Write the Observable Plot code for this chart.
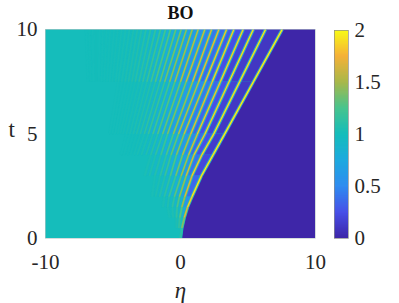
<!DOCTYPE html>
<html><head><meta charset="utf-8">
<script src="https://cdn.jsdelivr.net/npm/d3@7"></script>
<script src="https://cdn.jsdelivr.net/npm/@observablehq/plot@0.6"></script>
<style>
html,body{margin:0;padding:0;background:#fff}
#w{position:relative;width:399px;height:303px}
#w svg{position:absolute;left:0;top:0;background:transparent}
</style></head><body><div id="w"></div>
<script>
const n = null;
const titleText = "BO", xLabel = "η", yLabel = "t";
const etaDomain = [-10, 10], tDomain = [0, 10], colorDomain = [0, 2];
const xTicks = [-10, 0, 10], yTicks = [0, 5, 10], barTicks = [0, 0.5, 1, 1.5, 2];
const baseValue = 1, aheadValue = 0;
const colorStops = [0, 0.25, 0.5, 0.75, 1, 1.25, 1.5, 1.75, 2];
const colorRange = ["#3e26a8", "#4750e8", "#2f8cf0", "#1daadf", "#15bdbb", "#48c48e", "#a8b84a", "#f5b138", "#f9fb15"];
const tLevels = [0, 0.5, 1, 1.5, 2, 3, 4, 5, 7.5, 10];
// crest positions (eta) read at each tLevel
const crestEta = [
 [0,.1,.28,.52,.85,1.55,2.41,3.27,5.4,7.53],
 [n,-.12,-.05,.1,.32,.85,1.58,2.46,4.38,6.3],
 [n,-.3,-.3,-.25,-.08,.42,1,1.81,3.6,5.39],
 [n,n,-.55,-.6,-.45,.05,.6,1.25,2.95,4.64],
 [n,n,-.8,-.95,-.85,-.35,.15,.76,2.35,3.95],
 [n,n,n,-1.3,-1.2,-.75,-.3,.27,1.84,3.41],
 [n,n,n,n,-1.55,-1.15,-.7,-.15,1.35,2.84],
 [n,n,n,n,-1.85,-1.5,-1.05,-.53,.9,2.3],
 [n,n,n,n,-2.1,-1.9,-1.45,-.96,.42,1.8],
 [n,n,n,n,n,-2.3,-1.85,-1.32,0,1.31],
 [n,n,n,n,n,-2.65,-2.2,-1.69,-.41,.87],
 [n,n,n,n,n,n,-2.55,-2.04,-.8,.44],
 [n,n,n,n,n,n,-2.9,-2.38,-1.17,.05],
 [n,n,n,n,n,n,-3.2,-2.68,-1.52,-.35],
 [n,n,n,n,n,n,-3.45,-2.98,-1.86,-.74],
 [n,n,n,n,n,n,-3.7,-3.25,-2.18,-1.11],
 [n,n,n,n,n,n,-3.95,-3.5,-2.49,-1.48],
 [n,n,n,n,n,n,-4.2,-3.75,-2.79,-1.85],
 [n,n,n,n,n,n,-4.4,-4,-3.07,-2.22],
 [n,n,n,n,n,n,n,-4.25,-3.35,-2.56],
 [n,n,n,n,n,n,n,-4.45,-3.6,-2.89],
 [n,n,n,n,n,n,n,-4.65,-3.85,-3.19],
 [n,n,n,n,n,n,n,-4.85,-4.1,-3.48],
 [n,n,n,n,n,n,n,-5.05,-4.35,-3.78],
 [n,n,n,n,n,n,n,-5.25,-4.6,-4.07],
 [n,n,n,n,n,n,n,n,-4.8,-4.36],
 [n,n,n,n,n,n,n,n,-5.05,-4.65],
 [n,n,n,n,n,n,n,n,-5.25,-4.92],
 [n,n,n,n,n,n,n,n,-5.45,-5.2],
 [n,n,n,n,n,n,n,n,-5.65,-5.48],
 [n,n,n,n,n,n,n,n,-5.85,-5.75],
 [n,n,n,n,n,n,n,n,-6.05,-6],
 [n,n,n,n,n,n,n,n,-6.25,-6.25],
 [n,n,n,n,n,n,n,n,-6.45,-6.5],
 [n,n,n,n,n,n,n,n,-6.65,-6.75],
 [n,n,n,n,n,n,n,n,-6.85,-7]
];
// crest heights at each tLevel
const crestVal = [
 [1,1.25,1.6,1.8,1.95,2,2,2,2,2],
 [n,1.1,1.2,1.4,1.6,1.8,1.9,1.95,1.95,1.95],
 [n,1.02,1.08,1.2,1.35,1.6,1.75,1.85,1.9,1.95],
 [n,n,1.03,1.08,1.2,1.45,1.6,1.75,1.85,1.9],
 [n,n,1.02,1.04,1.1,1.3,1.5,1.65,1.8,1.9],
 [n,n,n,1.02,1.05,1.2,1.35,1.55,1.75,1.85],
 [n,n,n,n,1.03,1.13,1.25,1.45,1.7,1.8],
 [n,n,n,n,1.02,1.08,1.18,1.35,1.62,1.78],
 [n,n,n,n,1.01,1.05,1.12,1.28,1.55,1.72],
 [n,n,n,n,n,1.03,1.08,1.2,1.5,1.68],
 [n,n,n,n,n,1.02,1.05,1.15,1.42,1.62],
 [n,n,n,n,n,n,1.03,1.1,1.35,1.56],
 [n,n,n,n,n,n,1.02,1.07,1.28,1.5],
 [n,n,n,n,n,n,1.01,1.05,1.22,1.44],
 [n,n,n,n,n,n,1.005,1.03,1.17,1.38],
 [n,n,n,n,n,n,1,1.02,1.13,1.32],
 [n,n,n,n,n,n,1,1.01,1.1,1.27],
 [n,n,n,n,n,n,1,1.01,1.07,1.22],
 [n,n,n,n,n,n,1,1.005,1.05,1.18],
 [n,n,n,n,n,n,n,1,1.04,1.15],
 [n,n,n,n,n,n,n,1,1.03,1.12],
 [n,n,n,n,n,n,n,1,1.02,1.1],
 [n,n,n,n,n,n,n,1,1.015,1.08],
 [n,n,n,n,n,n,n,1,1.01,1.06],
 [n,n,n,n,n,n,n,1,1.01,1.05],
 [n,n,n,n,n,n,n,n,1.005,1.04],
 [n,n,n,n,n,n,n,n,1.005,1.03],
 [n,n,n,n,n,n,n,n,1,1.025],
 [n,n,n,n,n,n,n,n,1,1.02],
 [n,n,n,n,n,n,n,n,1,1.02],
 [n,n,n,n,n,n,n,n,1,1.015],
 [n,n,n,n,n,n,n,n,1,1.015],
 [n,n,n,n,n,n,n,n,1,1.01],
 [n,n,n,n,n,n,n,n,1,1.01],
 [n,n,n,n,n,n,n,n,1,1.01],
 [n,n,n,n,n,n,n,n,1,1.005]
];
// trough depth between each crest and the next, at each tLevel
const troughVal = [
 [n,1,.8,.6,.45,.25,.15,.12,.1,.1],
 [n,1,.95,.85,.7,.5,.3,.2,.15,.12],
 [n,n,.98,.92,.8,.6,.4,.3,.2,.15],
 [n,n,1,.97,.9,.7,.55,.4,.28,.2],
 [n,n,n,.98,.92,.78,.65,.5,.35,.25],
 [n,n,n,n,.96,.85,.72,.55,.42,.3],
 [n,n,n,n,.98,.9,.8,.62,.47,.35],
 [n,n,n,n,.99,.95,.86,.7,.52,.4],
 [n,n,n,n,n,.95,.9,.76,.58,.45],
 [n,n,n,n,n,.97,.93,.8,.64,.5],
 [n,n,n,n,n,n,.95,.85,.68,.55],
 [n,n,n,n,n,n,.97,.88,.73,.6],
 [n,n,n,n,n,n,.99,.91,.77,.65],
 [n,n,n,n,n,n,1,.94,.8,.7],
 [n,n,n,n,n,n,1,.96,.84,.74],
 [n,n,n,n,n,n,1,.97,.87,.78],
 [n,n,n,n,n,n,1,.98,.9,.82],
 [n,n,n,n,n,n,1,.985,.92,.85],
 [n,n,n,n,n,n,n,.99,.94,.88],
 [n,n,n,n,n,n,n,1,.96,.9],
 [n,n,n,n,n,n,n,1,.97,.92],
 [n,n,n,n,n,n,n,1,.98,.93],
 [n,n,n,n,n,n,n,1,.985,.95],
 [n,n,n,n,n,n,n,1,.99,.96],
 [n,n,n,n,n,n,n,n,.99,.97],
 [n,n,n,n,n,n,n,n,1,.975],
 [n,n,n,n,n,n,n,n,1,.98],
 [n,n,n,n,n,n,n,n,1,.98],
 [n,n,n,n,n,n,n,n,1,.985],
 [n,n,n,n,n,n,n,n,1,.985],
 [n,n,n,n,n,n,n,n,1,.99],
 [n,n,n,n,n,n,n,n,1,.99],
 [n,n,n,n,n,n,n,n,1,.995],
 [n,n,n,n,n,n,n,n,1,.995],
 [n,n,n,n,n,n,n,n,1,.995]
];
const barLevels = d3.range(0, 2, 0.01);
const serif = "'Liberation Serif','Times New Roman',serif", ink = "#262626";

// a segment is painted in one colour, so it takes the mean of its two ends
const mid = (row, j) => row[j + 1] != null ? (row[j] + row[j + 1]) / 2 : row[j];
const crestRows = crestEta.flatMap((row, i) => row.map((eta, j) => {
  const v = crestVal[i][j] == null ? n : mid(crestVal[i], j);
  const tr = troughVal[i] && troughVal[i][j] != null ? mid(troughVal[i], j) : baseValue;
  return {id: i, t: tLevels[j], eta, v, base: tr};
}).filter(d => d.eta != null));
const bandRows = troughVal.flatMap((row, i) => row.map((v, j) => ({
  id: i, t: tLevels[j], a: crestEta[i + 1][j], b: crestEta[i][j], v: v == null ? n : mid(row, j)
})).filter(d => d.v != null && d.a != null && d.b != null));
const frontRows = crestRows.filter(d => d.id === 0).map(d => ({t: d.t, a: d.eta, b: etaDomain[1], v: aheadValue}));
const layer = (k, w) => Plot.line(crestRows, {
  x: "eta", y: "t", z: "id", stroke: d => d.base + (d.v - d.base) * k,
  strokeWidth: w, curve: "linear", clip: true, strokeLinecap: "butt"
});

const main = Plot.plot({
  width: 399, height: 303, marginLeft: 45, marginRight: 84, marginTop: 29, marginBottom: 65,
  style: {background: "transparent"},
  x: {domain: etaDomain}, y: {domain: tDomain},
  color: {type: "linear", domain: colorStops, range: colorRange, interpolate: "rgb", clamp: true},
  marks: [
    Plot.rect([baseValue], {x1: etaDomain[0], x2: etaDomain[1], y1: tDomain[0], y2: tDomain[1], fill: d => d}),
    Plot.areaX(frontRows, {x1: "a", x2: "b", y: "t", fill: "v", clip: true}),
    Plot.areaX(bandRows, {x1: "a", x2: "b", y: "t", z: "id", fill: "v", clip: true}),
    layer(0.3, 3.3),
    layer(0.55, 2.3),
    layer(0.8, 1.6),
    layer(1, 1),
    Plot.frame({stroke: "#b9c6c6", strokeWidth: 0.6}),
    Plot.axisX({ticks: xTicks, tickSize: 0, tickPadding: 16, tickFormat: String, fontSize: 21, fontFamily: serif, fill: ink, label: null}),
    Plot.axisY({ticks: yTicks, tickSize: 0, tickPadding: 8, tickFormat: String, fontSize: 21, fontFamily: serif, fill: ink, label: null}),
    Plot.text([titleText], {frameAnchor: "top", dy: -23, text: d => d, fontSize: 18, fontWeight: "bold", fontFamily: serif, fill: "#111"}),
    Plot.text([xLabel], {frameAnchor: "bottom", dy: 59, text: d => d, fontSize: 23, fontStyle: "italic", fontFamily: serif, fill: ink}),
    Plot.text([yLabel], {frameAnchor: "left", dx: -37, dy: -4, text: d => d, fontSize: 23, fontFamily: serif, fill: ink})
  ]
});

const bar = Plot.plot({
  width: 399, height: 303, marginLeft: 334, marginRight: 51, marginTop: 30, marginBottom: 65,
  style: {background: "transparent"},
  x: {domain: [0, 1], axis: null}, y: {domain: colorDomain},
  color: {type: "linear", domain: colorStops, range: colorRange, interpolate: "rgb"},
  marks: [
    Plot.rect(barLevels, {x1: 0, x2: 1, y1: d => d, y2: d => Math.min(d + 0.04, 2), fill: d => d + 0.005}),
    Plot.frame({stroke: "#8c8c8c", strokeWidth: 0.7}),
    Plot.axisY({anchor: "right", ticks: barTicks, tickSize: 0, tickPadding: 6, tickFormat: String, fontSize: 21, fontFamily: serif, fill: ink, label: null})
  ]
});
const w = document.getElementById("w");
w.append(main, bar);
</script></body></html>
